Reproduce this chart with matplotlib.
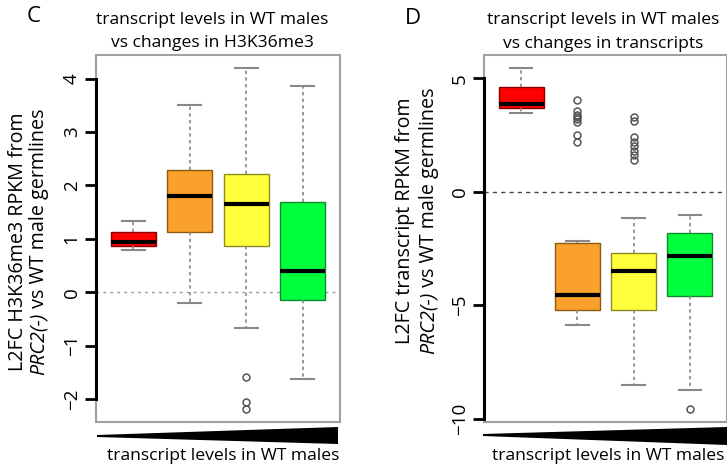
"""two box plot panels: transcript levels in WT males vs changes in H3K36me3 / transcripts"""
import matplotlib
matplotlib.use("Agg")
import matplotlib.pyplot as plt
from matplotlib.patches import Polygon, Rectangle

plt.rcParams['font.family'] = ['Open Sans', 'DejaVu Sans']

colors = ['#ff0000', '#f9a12a', '#ffff3c', '#00ff3c']
edges = ['#8a0000', '#8a5a10', '#8a8a20', '#108a30']

# panel C: L2FC H3K36me3
c_whislo = [0.79, -0.20, -0.67, -1.63]
c_q1 = [0.86, 1.13, 0.86, -0.15]
c_med = [0.94, 1.80, 1.66, 0.40]
c_q3 = [1.13, 2.28, 2.22, 1.69]
c_whishi = [1.34, 3.51, 4.19, 3.86]
c_fliers = [[], [], [-1.59, -2.05, -2.18], []]

# panel D: L2FC transcripts
d_whislo = [3.45, -5.84, -8.48, -8.74]
d_q1 = [3.67, -5.18, -5.18, -4.58]
d_med = [3.85, -4.52, -3.48, -2.82]
d_q3 = [4.63, -2.25, -2.69, -1.80]
d_whishi = [5.44, -2.17, -1.15, -1.00]
d_fliers = [[], [4.05, 3.55, 3.40, 3.30, 3.20, 3.05, 2.50, 2.20],
            [3.30, 3.10, 2.40, 2.20, 2.00, 1.80, 1.60, 1.40], [-9.54]]

W, H = 727, 470
FS = 12.6    # titles / x labels
FSY = 14.2   # y labels


def fx(px):
    return px / W


def fy(py):
    return 1 - py / H


def panel(ax, lo, q1, med, q3, hi, fliers, yticks, ylim, zero_style):
    stats = []
    for i in range(4):
        stats.append(dict(whislo=lo[i], q1=q1[i], med=med[i], q3=q3[i],
                          whishi=hi[i], fliers=fliers[i]))
    bp = ax.bxp(stats, positions=[1, 2, 3, 4], widths=0.8, patch_artist=True,
                boxprops=dict(linewidth=1.0),
                medianprops=dict(color='black', linewidth=3, solid_capstyle='butt'),
                whiskerprops=dict(color='#888888', linestyle=(0, (2, 2)), linewidth=1.2),
                capprops=dict(color='#888888', linewidth=1.5),
                flierprops=dict(marker='o', markerfacecolor='none',
                                markeredgecolor='#555555', markersize=5,
                                markeredgewidth=1.1))
    for i, b in enumerate(bp['boxes']):
        b.set_facecolor(colors[i])
        b.set_edgecolor(edges[i])
    for cap in bp['caps']:
        x0, x1 = cap.get_xdata()
        c = (x0 + x1) / 2
        cap.set_xdata([c - 0.2, c + 0.2])
    ax.axhline(0, **zero_style, zorder=0)
    ax.set_xlim(0.34, 4.66)
    ax.set_ylim(*ylim)
    ax.set_xticks([])
    ax.set_yticks(yticks)
    ax.set_yticklabels([str(t).replace('-', '\u2212') for t in yticks],
                       rotation=90, va='center', fontsize=13.5)
    ax.tick_params(axis='y', length=8, width=2, pad=3)
    for s in ['top', 'right', 'bottom']:
        ax.spines[s].set_visible(False)
    ax.spines['left'].set_bounds(yticks[0], yticks[-1])
    ax.spines['left'].set_linewidth(2.2)
    ax.add_patch(Rectangle((0, 0), 1, 1, transform=ax.transAxes, fill=False,
                           edgecolor='#a0a0a0', linewidth=1.5, clip_on=False,
                           zorder=0))


fig = plt.figure(figsize=(W / 100, H / 100), dpi=100)
axC = fig.add_axes([fx(96), fy(422), fx(244), 367 / H])
axD = fig.add_axes([fx(484), fy(422), fx(243), 367 / H])

panel(axC, c_whislo, c_q1, c_med, c_q3, c_whishi, c_fliers,
      [-2, -1, 0, 1, 2, 3, 4], (-2.43, 4.44),
      dict(color='#999999', linestyle=(0, (2, 3)), linewidth=1.0))
panel(axD, d_whislo, d_q1, d_med, d_q3, d_whishi, d_fliers,
      [-10, -5, 0, 5], (-10.13, 6.02),
      dict(color='#444444', linestyle=(0, (3, 3)), linewidth=1.0))

# titles and panel letters
fig.text(fx(212), fy(20), 'transcript levels in WT males', ha='center', va='center', fontsize=FS)
fig.text(fx(212), fy(43), 'vs changes in H3K36me3', ha='center', va='center', fontsize=FS)
fig.text(fx(603), fy(20), 'transcript levels in WT males', ha='center', va='center', fontsize=FS)
fig.text(fx(603), fy(44), 'vs changes in transcripts', ha='center', va='center', fontsize=FS)
fig.text(fx(34), fy(16), 'C', ha='center', va='center', fontsize=16)
fig.text(fx(413), fy(18), 'D', ha='center', va='center', fontsize=16)

# y labels: first line plain, second line starts with italic PRC2(-)
fig.canvas.draw()
renderer = fig.canvas.get_renderer()
for xa, xb, yc, first in [(18, 39, 242, 'L2FC H3K36me3 RPKM from'),
                          (405, 429, 221, 'L2FC transcript RPKM from')]:
    fig.text(fx(xa), fy(yc), first, rotation=90, ha='center', va='center', fontsize=FSY)
    it = fig.text(0, 0, 'PRC2(-)', rotation=90, style='italic', ha='center',
                  va='bottom', fontsize=FSY)
    rest = fig.text(0, 0, ' vs WT male germlines', rotation=90, ha='center',
                    va='bottom', fontsize=FSY)
    h_it = it.get_window_extent(renderer).height
    h_rest = rest.get_window_extent(renderer).height
    y0 = (H - yc) - (h_it + h_rest) / 2
    it.set_position((fx(xb), y0 / H))
    rest.set_position((fx(xb), (y0 + h_it) / H))

# wedges and x labels
for x0, x1, yl, yt, yb, xc in [(97, 338, 436, 427, 444, 223),
                               (483, 727, 435, 427, 445, 608)]:
    pts = [(fx(x0), fy(yl - 1)), (fx(x1), fy(yt)), (fx(x1), fy(yb)), (fx(x0), fy(yl + 1))]
    fig.add_artist(Polygon(pts, closed=True, facecolor='black', edgecolor='none',
                           transform=fig.transFigure))
    fig.text(fx(xc), fy(456), 'transcript levels in WT males', ha='center',
             va='center', fontsize=FS)

plt.savefig('out.png', dpi=100)
